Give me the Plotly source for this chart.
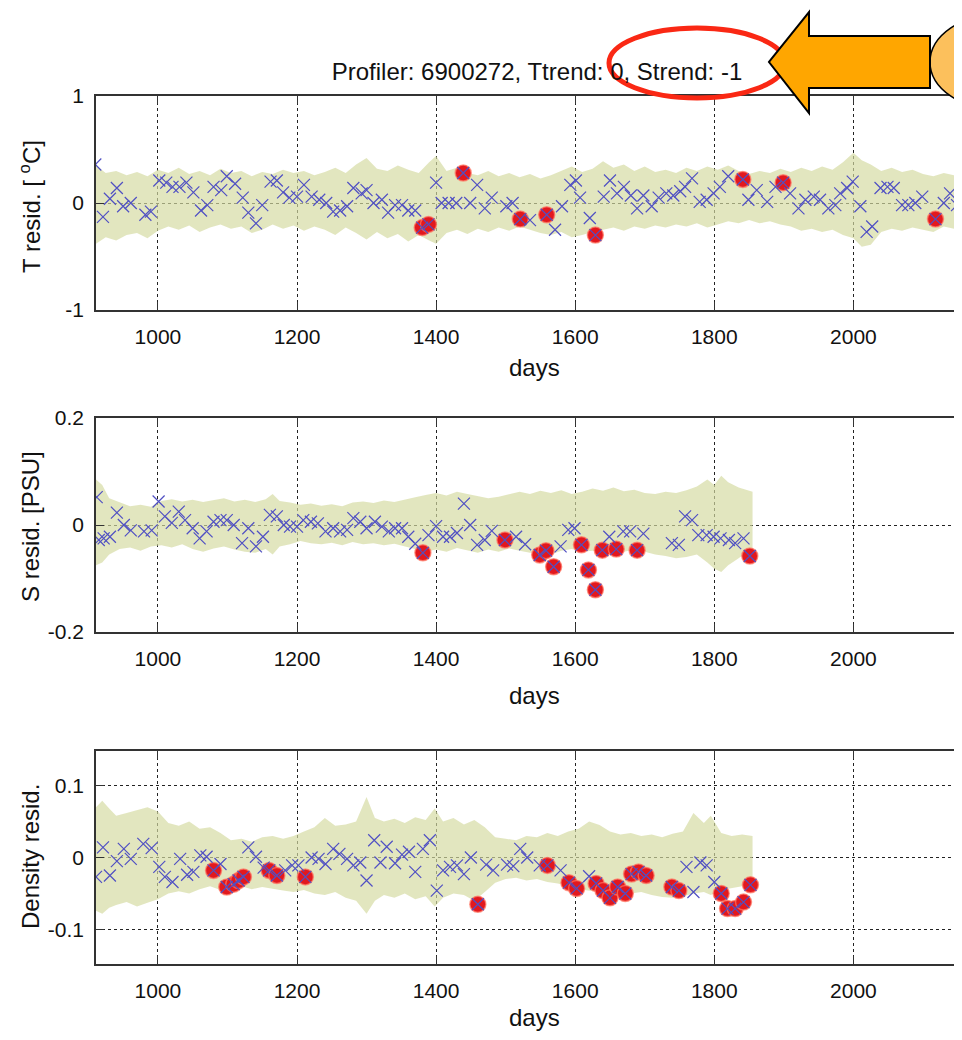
import plotly.graph_objects as go

# ---------------- data ----------------
# temperature residuals (top panel)
t_days = [910, 921, 931, 941, 950, 961, 982, 990, 1002, 1012,
          1021, 1031, 1041, 1051, 1062, 1071, 1080, 1091, 1099, 1111,
          1122, 1130, 1141, 1150, 1162, 1171, 1180, 1189, 1200, 1210,
          1221, 1232, 1242, 1252, 1262, 1272, 1281, 1293, 1300, 1310,
          1322, 1331, 1341, 1351, 1360, 1370, 1380, 1389, 1400, 1408,
          1418, 1429, 1439, 1449, 1459, 1470, 1480, 1501, 1510, 1521,
          1535, 1559, 1571, 1581, 1593, 1601, 1607, 1621, 1629, 1641,
          1650, 1660, 1670, 1680, 1689, 1698, 1710, 1720, 1731, 1741,
          1751, 1758, 1768, 1779, 1789, 1799, 1808, 1820, 1841, 1849,
          1861, 1876, 1888, 1899, 1909, 1921, 1931, 1943, 1952, 1964,
          1974, 1981, 1991, 1999, 2010, 2019, 2027, 2039, 2049, 2058,
          2070, 2079, 2089, 2099, 2118, 2130, 2139, 2149]
t_resid = [0.36, -0.13, 0.04, 0.14, -0.03, 0.00, -0.11, -0.08, 0.21, 0.19,
           0.15, 0.15, 0.19, 0.10, -0.07, -0.02, 0.15, 0.12, 0.25, 0.18,
           0.05, -0.09, -0.19, -0.02, 0.20, 0.21, 0.10, 0.05, 0.06, 0.17,
           0.06, 0.03, 0.00, -0.08, -0.07, -0.03, 0.14, 0.09, 0.12, 0.00,
           0.03, -0.09, -0.02, -0.02, -0.07, -0.07, -0.23, -0.20, 0.19, 0.00,
           0.00, 0.00, 0.28, 0.00, 0.17, -0.05, 0.05, -0.03, 0.00, -0.15,
           -0.16, -0.11, -0.25, -0.03, 0.17, 0.21, 0.05, -0.14, -0.30, 0.06,
           0.21, 0.09, 0.15, 0.07, -0.05, 0.07, -0.03, 0.05, 0.09, 0.07,
           0.11, 0.15, 0.23, 0.01, 0.03, 0.09, 0.15, 0.25, 0.22, 0.03,
           0.12, 0.01, 0.15, 0.19, 0.09, -0.05, 0.03, 0.06, 0.03, -0.05,
           -0.02, 0.09, 0.14, 0.20, -0.03, -0.27, -0.22, 0.14, 0.15, 0.14,
           -0.02, -0.02, 0.00, 0.06, -0.15, 0.00, 0.09, -0.02]
t_flagged = [1380, 1389, 1439, 1521, 1559, 1629, 1841, 1899, 2118]

t_band_days = [911, 925, 940, 955, 970, 985, 1000, 1015, 1030, 1045, 1060, 1075,
               1090, 1105, 1120, 1135, 1150, 1165, 1180, 1195, 1210, 1225, 1240,
               1255, 1270, 1285, 1300, 1315, 1330, 1345, 1360, 1375, 1390, 1400,
               1415, 1430, 1445, 1460, 1475, 1490, 1505, 1520, 1535, 1550, 1565,
               1580, 1595, 1610, 1625, 1640, 1655, 1670, 1685, 1700, 1715, 1730,
               1745, 1760, 1775, 1790, 1805, 1820, 1835, 1850, 1865, 1880, 1895,
               1910, 1925, 1940, 1955, 1970, 1985, 2000, 2012, 2025, 2040, 2055,
               2070, 2085, 2100, 2115, 2130, 2145, 2160]
t_band_hi = [0.35, 0.28, 0.30, 0.26, 0.29, 0.25, 0.31, 0.28, 0.33, 0.27, 0.30, 0.26,
             0.32, 0.28, 0.30, 0.25, 0.29, 0.27, 0.31, 0.28, 0.30, 0.26, 0.29,
             0.33, 0.28, 0.36, 0.42, 0.32, 0.30, 0.35, 0.31, 0.28, 0.38, 0.44,
             0.30, 0.33, 0.28, 0.26, 0.30, 0.25, 0.28, 0.24, 0.27, 0.23, 0.26,
             0.30, 0.34, 0.29, 0.32, 0.39, 0.33, 0.36, 0.30, 0.34, 0.29, 0.31,
             0.28, 0.33, 0.30, 0.34, 0.31, 0.35, 0.30, 0.27, 0.30, 0.28, 0.32,
             0.29, 0.33, 0.30, 0.34, 0.31, 0.38, 0.47, 0.40, 0.36, 0.30, 0.33,
             0.29, 0.31, 0.27, 0.25, 0.28, 0.26, 0.27]
t_band_lo = [-0.38, -0.32, -0.35, -0.30, -0.28, -0.33, -0.26, -0.22, -0.25, -0.21, -0.27, -0.23,
             -0.20, -0.24, -0.22, -0.28, -0.25, -0.20, -0.24, -0.21, -0.26, -0.22, -0.25,
             -0.30, -0.23, -0.28, -0.34, -0.27, -0.33, -0.29, -0.36, -0.30, -0.35, -0.38,
             -0.28, -0.25, -0.29, -0.24, -0.27, -0.23, -0.26, -0.22, -0.25, -0.28, -0.30,
             -0.27, -0.32, -0.30, -0.27, -0.25, -0.23, -0.26, -0.22, -0.24, -0.21, -0.23,
             -0.20, -0.22, -0.19, -0.23, -0.20, -0.17, -0.19, -0.16, -0.19, -0.17, -0.20,
             -0.22, -0.26, -0.24, -0.27, -0.25, -0.30, -0.33, -0.41, -0.39, -0.27, -0.24,
             -0.26, -0.23, -0.25, -0.27, -0.22, -0.24, -0.23]

# salinity residuals (middle panel)
s_days = [912, 915, 922, 931, 941, 951, 961, 980, 991, 1001,
          1010, 1020, 1030, 1039, 1050, 1060, 1070, 1080, 1090, 1099,
          1109, 1121, 1130, 1141, 1151, 1161, 1171, 1181, 1190, 1200,
          1209, 1220, 1230, 1241, 1252, 1262, 1272, 1281, 1291, 1300,
          1312, 1322, 1332, 1341, 1351, 1360, 1370, 1381, 1389, 1400,
          1410, 1420, 1430, 1440, 1449, 1459, 1470, 1480, 1499, 1515,
          1528, 1549, 1558, 1569, 1579, 1590, 1599, 1609, 1619, 1629,
          1639, 1649, 1659, 1669, 1679, 1689, 1698, 1739, 1749, 1758,
          1768, 1777, 1789, 1799, 1809, 1821, 1830, 1842, 1851]
s_resid = [0.052, -0.028, -0.025, -0.022, 0.023, 0.000, -0.010, -0.012, -0.010, 0.044,
           0.016, 0.004, 0.025, 0.009, -0.006, -0.025, -0.012, 0.006, 0.009, 0.009,
           0.000, -0.034, -0.006, -0.040, -0.022, 0.019, 0.016, 0.000, -0.003, -0.003,
           0.009, 0.006, 0.003, -0.012, -0.006, -0.012, -0.009, 0.013, 0.006, -0.006,
           0.006, -0.003, -0.012, -0.006, -0.006, -0.022, -0.035, -0.052, -0.019, -0.002,
           -0.022, -0.022, -0.015, 0.040, 0.000, -0.037, -0.028, -0.011, -0.028, -0.022,
           -0.036, -0.056, -0.048, -0.078, -0.040, -0.009, -0.006, -0.037, -0.084, -0.121,
           -0.047, -0.022, -0.045, -0.012, -0.012, -0.047, -0.016, -0.034, -0.037, 0.016,
           0.009, -0.019, -0.019, -0.022, -0.025, -0.028, -0.034, -0.025, -0.058]
s_flagged = [1381, 1499, 1549, 1558, 1569, 1609, 1619, 1629, 1639, 1659, 1689, 1851]

s_band_days = [911, 920, 930, 945, 960, 975, 990, 1005, 1020, 1035, 1050, 1065,
               1080, 1095, 1110, 1125, 1140, 1155, 1165, 1175, 1190, 1205, 1220,
               1235, 1250, 1265, 1280, 1295, 1310, 1325, 1340, 1355, 1370, 1385,
               1400, 1415, 1430, 1445, 1460, 1475, 1490, 1505, 1520, 1535, 1550,
               1565, 1580, 1595, 1610, 1625, 1640, 1655, 1670, 1685, 1700, 1715,
               1730, 1745, 1760, 1775, 1790, 1800, 1810, 1820, 1835, 1848, 1855]
s_band_hi = [0.085, 0.075, 0.050, 0.042, 0.035, 0.038, 0.034, 0.045, 0.048, 0.044, 0.047, 0.043,
             0.046, 0.050, 0.044, 0.047, 0.043, 0.048, 0.058, 0.045, 0.042, 0.038, 0.040,
             0.036, 0.039, 0.035, 0.042, 0.044, 0.041, 0.046, 0.043, 0.048, 0.052, 0.056,
             0.060, 0.055, 0.062, 0.058, 0.054, 0.050, 0.053, 0.057, 0.062, 0.058, 0.064,
             0.060, 0.065, 0.058, 0.062, 0.068, 0.064, 0.070, 0.063, 0.066, 0.060, 0.058,
             0.062, 0.060, 0.065, 0.072, 0.085, 0.075, 0.092, 0.080, 0.070, 0.065, 0.062]
s_band_lo = [-0.075, -0.070, -0.055, -0.045, -0.042, -0.048, -0.040, -0.038, -0.042, -0.036, -0.045, -0.050,
             -0.044, -0.040, -0.046, -0.050, -0.052, -0.045, -0.055, -0.040, -0.036, -0.030, -0.034,
             -0.036, -0.033, -0.038, -0.032, -0.036, -0.034, -0.038, -0.035, -0.040, -0.045, -0.050,
             -0.046, -0.050, -0.043, -0.048, -0.052, -0.046, -0.050, -0.044, -0.048, -0.052, -0.050,
             -0.055, -0.048, -0.045, -0.050, -0.048, -0.052, -0.047, -0.050, -0.046, -0.050, -0.055,
             -0.058, -0.062, -0.060, -0.055, -0.070, -0.082, -0.088, -0.075, -0.062, -0.050, -0.048]

# density residuals (bottom panel)
d_days = [911, 921, 931, 941, 951, 961, 979, 991, 1002, 1010,
          1021, 1032, 1042, 1051, 1061, 1070, 1080, 1090, 1099, 1109,
          1116, 1123, 1130, 1141, 1152, 1160, 1171, 1183, 1193, 1202,
          1212, 1221, 1231, 1241, 1252, 1261, 1272, 1281, 1291, 1300,
          1311, 1320, 1329, 1341, 1351, 1361, 1370, 1381, 1391, 1401,
          1410, 1420, 1430, 1440, 1450, 1460, 1472, 1482, 1502, 1511,
          1521, 1531, 1549, 1560, 1579, 1591, 1602, 1620, 1630, 1640,
          1650, 1661, 1672, 1681, 1691, 1702, 1739, 1749, 1760, 1770,
          1780, 1789, 1800, 1810, 1819, 1830, 1842, 1852]
d_resid = [-0.027, 0.014, -0.025, -0.005, 0.012, -0.002, 0.019, 0.013, -0.013, -0.027,
           -0.034, -0.002, -0.024, -0.020, 0.003, 0.001, -0.018, -0.009, -0.041, -0.037,
           -0.032, -0.027, 0.014, 0.001, -0.014, -0.018, -0.025, -0.018, -0.011, -0.011,
           -0.027, 0.000, -0.002, -0.009, 0.012, 0.005, -0.002, -0.011, -0.007, -0.032,
           0.024, -0.007, 0.015, -0.008, 0.004, 0.008, -0.020, 0.012, 0.024, -0.046,
           -0.018, -0.013, -0.011, -0.023, 0.000, -0.065, -0.010, -0.018, -0.010, -0.012,
           0.012, 0.000, -0.011, -0.011, -0.018, -0.035, -0.043, -0.026, -0.036, -0.046,
           -0.056, -0.041, -0.050, -0.023, -0.020, -0.025, -0.041, -0.046, -0.013, -0.048,
           -0.007, -0.011, -0.034, -0.050, -0.071, -0.071, -0.062, -0.038]
d_flagged = [1080, 1099, 1109, 1116, 1123, 1160, 1171, 1212, 1460, 1560, 1591, 1602,
             1630, 1640, 1650, 1661, 1672, 1681, 1691, 1702, 1739, 1749, 1810, 1819,
             1830, 1842, 1852]

d_band_days = [911, 920, 930, 940, 955, 970, 985, 1000, 1015, 1030, 1045, 1060,
               1075, 1090, 1105, 1120, 1135, 1150, 1165, 1180, 1195, 1210, 1225,
               1240, 1255, 1270, 1285, 1300, 1312, 1325, 1340, 1355, 1370, 1385,
               1398, 1410, 1425, 1440, 1455, 1470, 1485, 1500, 1515, 1530, 1545,
               1560, 1575, 1590, 1605, 1620, 1635, 1650, 1665, 1680, 1695, 1710,
               1725, 1740, 1755, 1770, 1785, 1795, 1810, 1825, 1840, 1855]
d_band_hi = [0.070, 0.079, 0.068, 0.058, 0.062, 0.066, 0.070, 0.064, 0.048, 0.044, 0.050, 0.040,
             0.042, 0.034, 0.024, 0.026, 0.022, 0.028, 0.030, 0.026, 0.030, 0.036, 0.042,
             0.055, 0.044, 0.046, 0.050, 0.084, 0.055, 0.050, 0.054, 0.048, 0.056, 0.052,
             0.068, 0.050, 0.055, 0.046, 0.052, 0.042, 0.028, 0.026, 0.024, 0.030, 0.028,
             0.034, 0.030, 0.036, 0.040, 0.050, 0.045, 0.036, 0.032, 0.034, 0.030, 0.032,
             0.028, 0.033, 0.036, 0.062, 0.048, 0.058, 0.034, 0.030, 0.032, 0.030]
d_band_lo = [-0.074, -0.078, -0.070, -0.066, -0.062, -0.068, -0.063, -0.058, -0.050, -0.047, -0.050, -0.044,
             -0.040, -0.045, -0.042, -0.040, -0.044, -0.041, -0.043, -0.046, -0.048, -0.045, -0.050,
             -0.052, -0.048, -0.056, -0.060, -0.078, -0.060, -0.052, -0.056, -0.050, -0.058, -0.054,
             -0.068, -0.056, -0.050, -0.052, -0.060, -0.048, -0.035, -0.030, -0.028, -0.032, -0.030,
             -0.034, -0.036, -0.040, -0.044, -0.046, -0.048, -0.050, -0.046, -0.050, -0.048, -0.052,
             -0.055, -0.056, -0.054, -0.050, -0.048, -0.052, -0.045, -0.042, -0.040, -0.040]

x_ticks = [1000, 1200, 1400, 1600, 1800, 2000]
t_ticks, t_ticklabels = [-1, 0, 1], ['-1', '0', '1']
s_ticks, s_ticklabels = [-0.2, 0, 0.2], ['-0.2', '0', '0.2']
d_ticks, d_ticklabels = [-0.1, 0, 0.1], ['-0.1', '0', '0.1']

title_text = 'Profiler: 6900272, Ttrend: 0, Strend: -1'

# ---------------- figure ----------------
# the page body adds an 8px margin, so the figure is drawn 8px smaller
# and every screen position below is shifted by that offset
OFF = 8
W, H = 962 - 2 * OFF, 1040 - 2 * OFF
FONT = 'Liberation Sans, Arial, sans-serif'
BAND = 'rgba(212,218,160,0.68)'
BLUE = 'rgb(80,80,195)'
RED = 'rgb(226,24,30)'


def px_x(px):
    return (px - OFF) / W


def px_y(py):
    return 1 - (py - OFF) / H


panels = [
    (t_days, t_resid, t_flagged, t_band_days, t_band_hi, t_band_lo),
    (s_days, s_resid, s_flagged, s_band_days, s_band_hi, s_band_lo),
    (d_days, d_resid, d_flagged, d_band_days, d_band_hi, d_band_lo),
]

fig = go.Figure()

for i, (days, resid, flagged, bdays, bhi, blo) in enumerate(panels):
    ax = '' if i == 0 else str(i + 1)
    lookup = dict(zip(days, resid))
    fig.add_trace(go.Scatter(x=bdays + bdays[::-1],
                             y=bhi + blo[::-1],
                             fill='toself',
                             fillcolor=BAND,
                             line=dict(width=0),
                             mode='lines',
                             hoverinfo='skip',
                             xaxis='x' + ax, yaxis='y' + ax))
    fig.add_trace(go.Scatter(x=flagged,
                             y=[lookup[d] for d in flagged],
                             mode='markers',
                             marker=dict(symbol='circle', size=16, color=RED,
                                         line=dict(color='rgba(255,120,100,0.7)', width=1.5)),
                             xaxis='x' + ax, yaxis='y' + ax))
    fig.add_trace(go.Scatter(x=days,
                             y=resid,
                             mode='markers',
                             marker=dict(symbol='x-thin', size=12,
                                         line=dict(color=BLUE, width=1.2)),
                             xaxis='x' + ax, yaxis='y' + ax))

# panel boxes in screen pixels: (top, bottom); left edge at 96
boxes = [(96, 310), (418, 632), (751, 964)]
yspecs = [([-1, 1], t_ticks, t_ticklabels),
          ([-0.2, 0.2], s_ticks, s_ticklabels),
          ([-0.148, 0.148], d_ticks, d_ticklabels)]
# 0.6955 px per day, 1000 at x=157.7
x_range = [911, 911 + (962 - OFF - 96) / 0.6955]

axis_common = dict(showline=True, linecolor='#333', linewidth=1.5,
                   ticks='inside', ticklen=8, tickcolor='#333',
                   showgrid=True, gridcolor='#222', gridwidth=1, griddash='dot',
                   zeroline=False, automargin=False,
                   tickfont=dict(family=FONT, size=21, color='#111'))

layout = dict(width=W, height=H,
              margin=dict(l=0, r=0, t=0, b=0, pad=0, autoexpand=False),
              paper_bgcolor='white', plot_bgcolor='white',
              showlegend=False)

for i, ((top, bot), (yr, yt, ytl)) in enumerate(zip(boxes, yspecs)):
    ax = '' if i == 0 else str(i + 1)
    layout['xaxis' + ax] = dict(axis_common, domain=[px_x(96), 1], range=x_range,
                                tickvals=x_ticks, mirror='ticks', ticklabelstandoff=7,
                                anchor='y' + ax)
    layout['yaxis' + ax] = dict(axis_common, domain=[px_y(bot), px_y(top)], range=yr,
                                tickvals=yt, ticktext=ytl, mirror=False, ticklabelstandoff=6,
                                anchor='x' + ax)

fig.update_layout(**layout)

fig.update_layout(title=dict(text=title_text, xref='paper', yref='paper', automargin=False,
                             x=px_x(537), y=px_y(72), xanchor='center', yanchor='middle',
                             font=dict(family=FONT, size=24, color='#111')))

# axis labels
ylabels = [('T resid. [ <sup>o</sup>C]', 207), ('S resid. [PSU]', 527), ('Density resid.', 857)]
for txt, py in ylabels:
    fig.add_annotation(text=txt, xref='paper', yref='paper', x=px_x(30), y=px_y(py),
                       textangle=-90, showarrow=False, xanchor='center', yanchor='middle',
                       font=dict(family=FONT, size=24, color='#111'))
for py in [367, 695, 1017]:
    fig.add_annotation(text='days', xref='paper', yref='paper', x=px_x(534), y=px_y(py),
                       showarrow=False, xanchor='center', yanchor='middle',
                       font=dict(family=FONT, size=24, color='#111'))

# call-out overlay: red ellipse, orange arrow and round badge
fig.add_shape(type='circle', xref='paper', yref='paper',
              x0=px_x(609), x1=px_x(785), y0=px_y(98), y1=px_y(28),
              line=dict(color='rgb(250,40,20)', width=5), layer='above')
fig.add_shape(type='circle', xref='paper', yref='paper',
              x0=px_x(930), x1=px_x(1070), y0=px_y(110), y1=px_y(14),
              fillcolor='rgb(252,192,92)', line=dict(color='black', width=1.5), layer='above')
arrow_px = [(769, 62), (809, 12), (809, 36), (930, 36), (930, 88), (809, 88), (809, 113)]
path = 'M ' + ' L '.join('{:.5f},{:.5f}'.format(px_x(a), px_y(b)) for a, b in arrow_px) + ' Z'
fig.add_shape(type='path', xref='paper', yref='paper', path=path,
              fillcolor='rgb(255,166,0)', line=dict(color='black', width=2), layer='above')

fig.write_html("out.html")
